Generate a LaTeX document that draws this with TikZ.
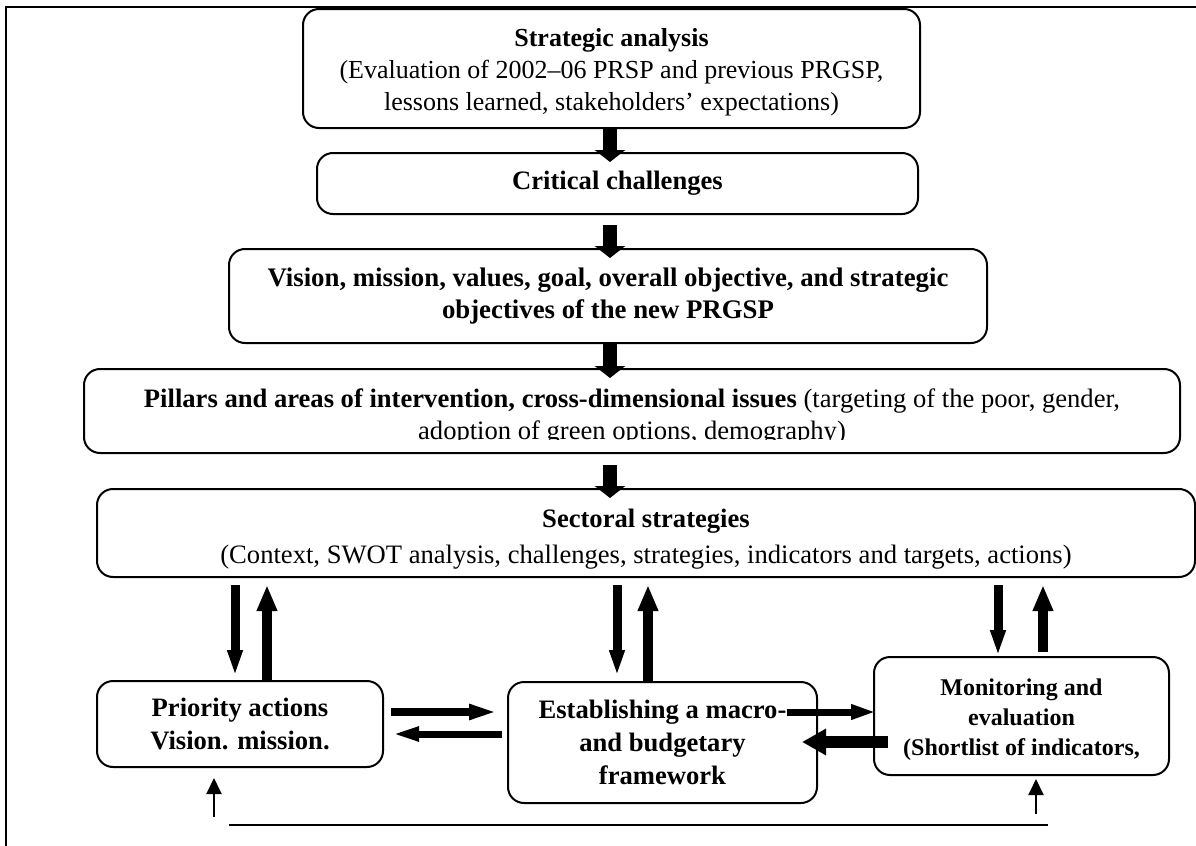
\documentclass[tikz,border=0pt]{standalone}
\usepackage{fontspec}
\setmainfont{Liberation Serif}
\usetikzlibrary{arrows.meta,calc}
\begin{document}
\begin{tikzpicture}[x=0.5pt,y=-0.5pt,
  box/.style={draw, line width=1pt, rounded corners=8pt, inner sep=0pt, align=center},
  ft/.style={font=\fontsize{13.3}{16.5}\selectfont},
  bigarr/.style={line width=7pt, -{Triangle[width=15pt,length=6pt]}},
  dnarr/.style={line width=4.5pt, -{Triangle[width=7pt,length=13pt]}},
  uparr/.style={line width=5pt, -{Triangle[width=9.5pt,length=13pt]}},
  harrA/.style={line width=4pt, -{Triangle[width=7pt,length=14.5pt]}},
  harrB/.style={line width=3.5pt, -{Triangle[width=6.5pt,length=14pt]}},
  harrC/.style={line width=3.5pt, -{Triangle[width=7pt,length=12.5pt]}},
  harrD/.style={line width=6pt, -{Triangle[width=12.5pt,length=12pt]}},
  smallup/.style={line width=1pt, -{Triangle[width=7.5pt,length=8pt]}},
  thinline/.style={line width=1pt}
]
\useasboundingbox (0,0) rectangle (1196,846);

% frame
\coordinate (f1) at (6,846);
\coordinate (f2) at (6,7);
\coordinate (f3) at (1196,7);
\draw[line width=1.2pt] (f1) -- (f2) -- (f3);

% boxes
\node[box, minimum width=308.5pt, minimum height=59.5pt, font=\fontsize{13}{16}\selectfont] (sa) at (611.5,68.5)
  {\rule{0pt}{13pt}\textbf{Strategic analysis}\\(Evaluation of 2002--06 PRSP and previous PRGSP,\\lessons learned, stakeholders' expectations)};
\node[box, ft, minimum width=300.5pt, minimum height=30.5pt] (cc) at (617.5,183.5)
  {\textbf{Critical challenges}};
\node[box, ft, minimum width=379pt, minimum height=47pt, font=\fontsize{13.4}{16}\selectfont\bfseries] (vm) at (608,296)
  {Vision, mission, values, goal, overall objective, and strategic\\objectives of the new PRGSP};
\node[box, minimum width=548pt, minimum height=42pt] (pil) at (632,411) {};
\begin{scope}
  \clip (84,369) rectangle (1180,439);
  \node[ft, anchor=base] (pil1) at (632,407)
    {\textbf{Pillars and areas of intervention, cross-dimensional issues} (targeting of the poor, gender,};
  \node[ft, anchor=base] (pil2) at (632,439)
    {adoption of green options, demography)};
\end{scope}
\node[box, minimum width=549pt, minimum height=44pt, font=\fontsize{13.3}{18}\selectfont] (sec) at (646,533)
  {\rule{0pt}{15pt}\textbf{Sectoral strategies}\\(Context, SWOT analysis, challenges, strategies, indicators and targets, actions)};
\node[box, ft, minimum width=143pt, minimum height=43pt, font=\fontsize{13.3}{16.5}\selectfont\bfseries] (pri) at (240,724)
  {Priority actions\\Vision. mission.};
\node[box, minimum width=154.5pt, minimum height=60.5pt, font=\fontsize{13.3}{16.5}\selectfont\bfseries] (est) at (662.5,742.5)
  {Establishing a macro-\\and budgetary\\framework};
\node[box, minimum width=147.5pt, minimum height=59pt, font=\fontsize{12}{15}\selectfont\bfseries] (mon) at (1021.5,716)
  {\rule{0pt}{12pt}Monitoring and\\evaluation\\(Shortlist of indicators,};

% main vertical arrows
\coordinate (ax) at (610,0);
\draw[bigarr] (sa.south -| ax) -- ($(cc.north -| ax)+(0,10)$);
\draw[bigarr] ($(cc.south -| ax)+(0,10)$) -- ($(vm.north -| ax)+(0,10)$);
\draw[bigarr] (vm.south -| ax) -- ($(pil.north -| ax)+(0,10)$);
\draw[bigarr] ($(pil.south -| ax)+(0,11)$) -- ($(sec.north -| ax)+(0,10)$);

% pairs under sectoral strategies
\coordinate (xa) at (235,0);
\coordinate (xb) at (267,0);
\coordinate (xc) at (617,0);
\coordinate (xd) at (648,0);
\coordinate (xe) at (998,0);
\coordinate (xf) at (1043,0);
\draw[dnarr] ($(sec.south -| xa)+(0,7)$) -- ($(pri.north -| xa)+(0,-4)$);
\draw[uparr] (pri.north -| xb) -- ($(sec.south -| xb)+(0,7)$);
\draw[dnarr] ($(sec.south -| xc)+(0,7)$) -- ($(est.north -| xc)+(0,-5)$);
\draw[uparr] (est.north -| xd) -- ($(sec.south -| xd)+(0,7)$);
\draw[dnarr] ($(sec.south -| xe)+(0,7)$) -- (mon.north -| xe);
\draw[uparr] ($(mon.north -| xf)+(0,-4)$) -- ($(sec.south -| xf)+(0,7)$);

% horizontal arrows
\coordinate (ya) at (0,712);
\coordinate (yb) at (0,734);
\coordinate (yc) at (0,742);
\draw[harrA] ($(pri.east |- ya)+(7,0)$) -- ($(est.west |- ya)+(-9,0)$);
\draw[harrB] ($(est.west |- yb)+(-5,0)$) -- ($(pri.east |- yb)+(7,0)$);
\draw[harrC] ($(est.east |- ya)+(-31,0)$) -- ($(mon.west |- ya)+(3,0)$);
\draw[harrD] ($(mon.west |- yc)+(15,0)$) -- ($(est.east |- yc)+(-16,0)$);

% bottom feedback
\coordinate (u1) at (214,817);
\coordinate (u2) at (1036,814);
\coordinate (l1) at (229,825);
\coordinate (l2) at (1048,825);
\draw[smallup] (u1) -- ($(pri.south -| u1)+(0,10)$);
\draw[smallup] (u2) -- ($(mon.south -| u2)+(0,3)$);
\draw[thinline] (l1) -- (l2);
\end{tikzpicture}
\end{document}
